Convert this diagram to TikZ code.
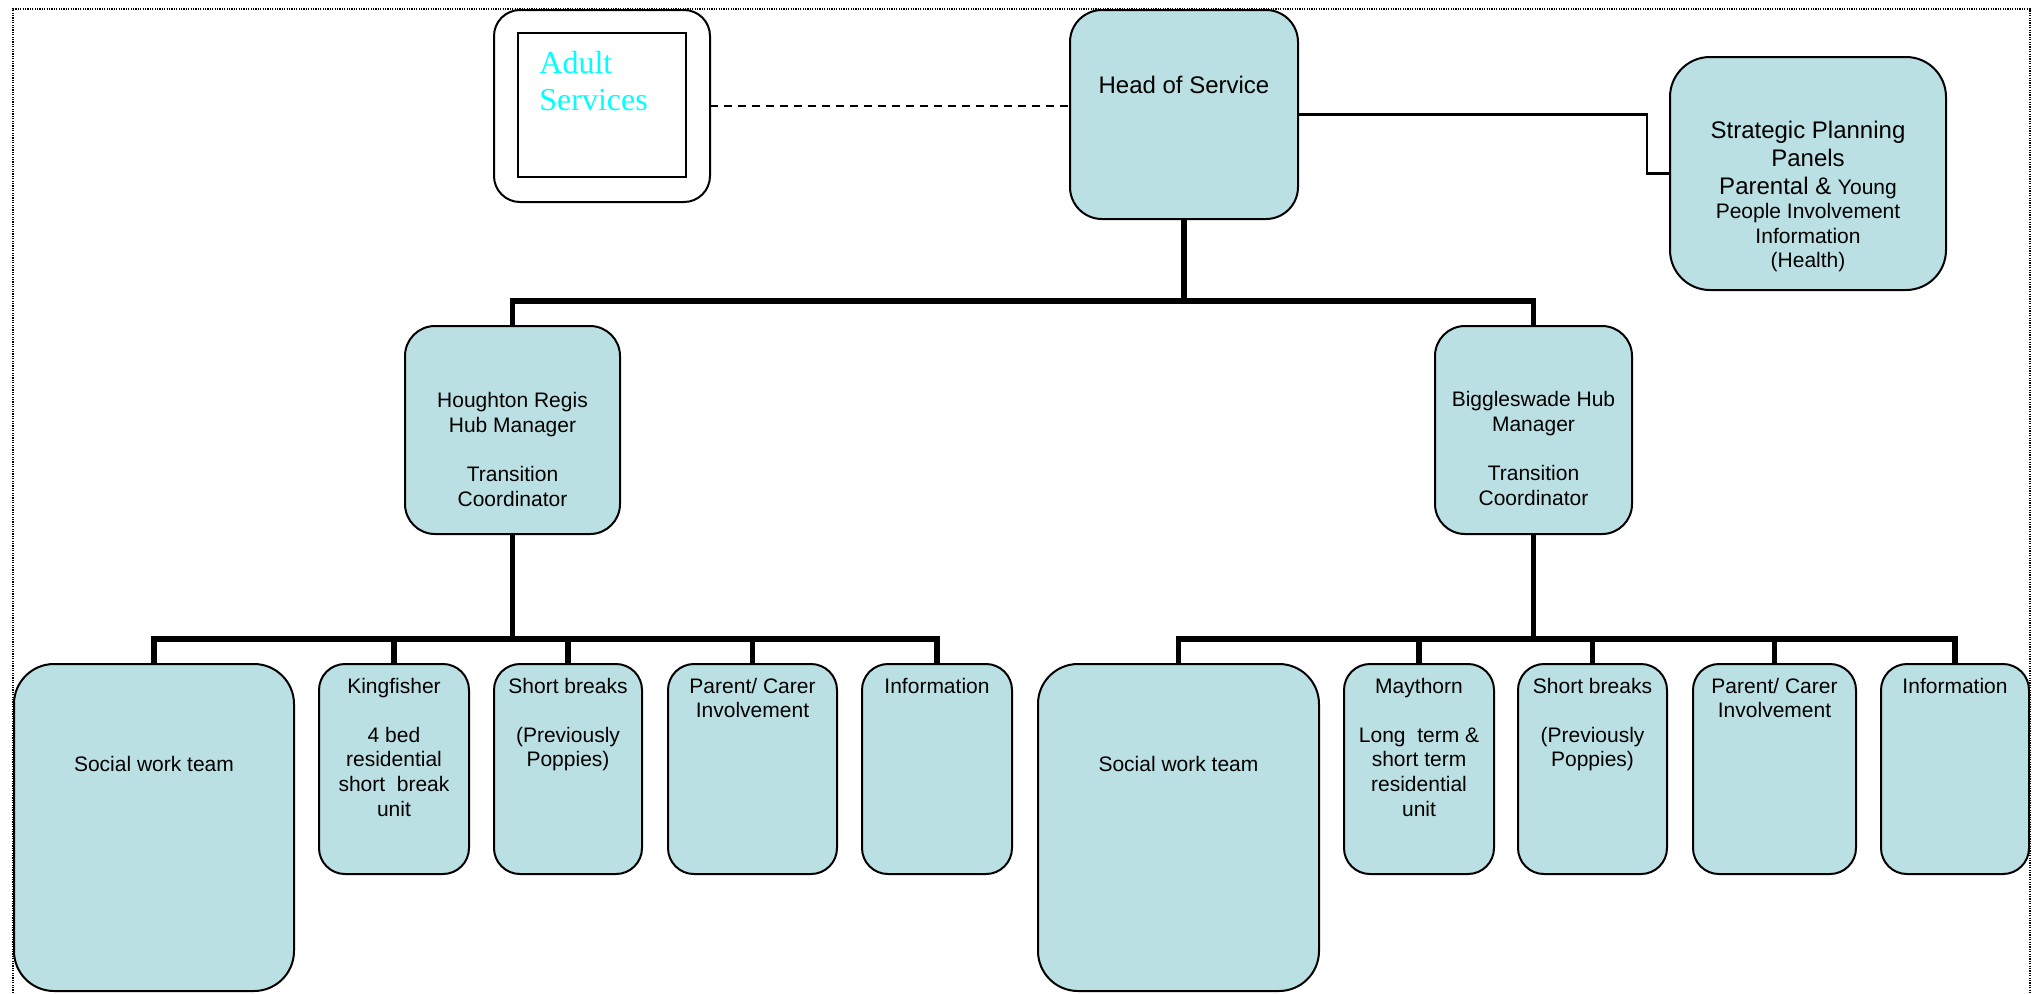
\documentclass[tikz,border=0pt]{standalone}
\usepackage{fontspec}
\setmainfont{Liberation Sans}
\newfontfamily\adultface{Liberation Serif}
\usetikzlibrary{positioning}
\definecolor{hubfill}{RGB}{187,224,227}
\definecolor{adultcyan}{RGB}{0,255,255}
\def\pxu{0.5pt}
\tikzset{
  unit/.style 2 args={draw, fill=hubfill, line width=1pt, inner sep=0pt,
                      outer sep=0pt, anchor=north west,
                      minimum width=#1*\pxu, minimum height=#2*\pxu},
  unit text/.style={font=\fontsize{10.5}{12.3}\selectfont, align=center,
                    inner sep=0pt},
  big text/.style={font=\fontsize{12}{14}\selectfont, align=center,
                   inner sep=0pt},
  adult text/.style={font=\adultface\fontsize{16}{18.5}\selectfont,
                     text=adultcyan, align=left, inner sep=0pt},
  trunk/.style={line width=2.6pt},
  link/.style={line width=1.4pt},
  frame/.style={line width=0.6pt, dash pattern=on 0.6pt off 0.6pt},
}
\newcommand\smallline[1]{{\fontsize{10.5}{12.3}\selectfont #1}}

\begin{document}
\begin{tikzpicture}[x=0.5pt, y=-0.5pt]
  \useasboundingbox (0,0) rectangle (2042,993);
  % dotted frame, bottom edge runs off the page
  \draw[frame] (13,993) -- (13,9) -- (2030,9) -- (2030,993);

  % top row
  \node[unit={216}{192}, fill=white, rounded corners=13pt] (adult) at (494,10) {};
  \node[unit={168}{144}, fill=white] (adultin) at (518,33) {};
  \node[adult text, below right=9pt and 10.5pt of adultin.north west] (adulttxt) {Adult\\Services};
  \node[unit={228}{209}, rounded corners=16pt] (head) at (1070,10) {};
  \node[big text, below=33pt of head.north] (headtxt) {Head of Service};
  \node[unit={276}{233}, rounded corners=20pt] (strat) at (1670,57) {};
  \node[big text, below=32pt of strat.north] (strattxt) {Strategic Planning\\Panels\\
    Parental \& \smallline{Young}\\[-2.1pt]\smallline{People Involvement}\\[-1.7pt]
    \smallline{Information}\\[-1.7pt]\smallline{(Health)}};

  % hub managers
  \node[unit={215}{208}, rounded corners=15pt] (hr) at (405,326) {};
  \node[unit text, below=33pt of hr.north] (hrtxt) {Houghton Regis\\Hub Manager\\[12.3pt]Transition\\Coordinator};
  \node[unit={197}{208}, rounded corners=15pt] (bw) at (1435,326) {};
  \node[unit text, below=32.5pt of bw.north] (bwtxt) {Biggleswade Hub\\Manager\\[12.3pt]Transition\\Coordinator};

  % teams
  \foreach \name/\xx/\ww/\hh/\rr in {swtL/14/280/327/20, kf/319/150/210/13,
      sbL/494/148/210/13, pcL/668/169/210/13, infL/862/150/210/13,
      swtR/1038/281/327/20, may/1344/150/210/13, sbR/1518/149/210/13,
      pcR/1693/163/210/13, infR/1881/148/210/13}
    \node[unit={\ww}{\hh}, rounded corners=\rr pt] (\name) at (\xx,664) {};

  \node[unit text, below=46pt of swtL.north] (swtLtxt) {Social work team};
  \node[unit text, below=6.75pt of kf.north] (kftxt) {Kingfisher\\[12.3pt]4 bed\\residential\\short\ \ break\\unit};
  \node[unit text, below=6.75pt of sbL.north] (sbLtxt) {Short breaks\\[12.3pt](Previously\\Poppies)};
  \node[unit text, below=6.75pt of pcL.north] (pcLtxt) {Parent/ Carer\\Involvement};
  \node[unit text, below=6.75pt of infL.north] (infLtxt) {Information};
  \node[unit text, below=46pt of swtR.north] (swtRtxt) {Social work team};
  \node[unit text, below=6.75pt of may.north] (maytxt) {Maythorn\\[12.3pt]Long\ \ term \&\\short term\\residential\\unit};
  \node[unit text, below=6.75pt of sbR.north] (sbRtxt) {Short breaks\\[12.3pt](Previously\\Poppies)};
  \node[unit text, below=6.75pt of pcR.north] (pcRtxt) {Parent/ Carer\\Involvement};
  \node[unit text, below=6.75pt of infR.north] (infRtxt) {Information};

  % connectors
  \draw[line width=1pt, dash pattern=on 4pt off 3pt] (adult.east) -- (adult.east -| head.west);
  \draw[link] (head.east) -- ++(349,0) |- (strat.west);
  \draw[trunk] (head.south) -- ++(0,82) coordinate (topbar);
  \draw[trunk] (hr.north) |- (topbar) -| (bw.north);
  \draw[trunk] (hr.south) -- ++(0,105) coordinate (hrbar);
  \draw[trunk] (bw.south) -- ++(0,105) coordinate (bwbar);
  \foreach \c in {swtL,kf,sbL,pcL,infL}
    \draw[trunk] (hrbar) -| (\c.north);
  \foreach \c in {swtR,may,sbR,pcR,infR}
    \draw[trunk] (bwbar) -| (\c.north);
\end{tikzpicture}
\end{document}
